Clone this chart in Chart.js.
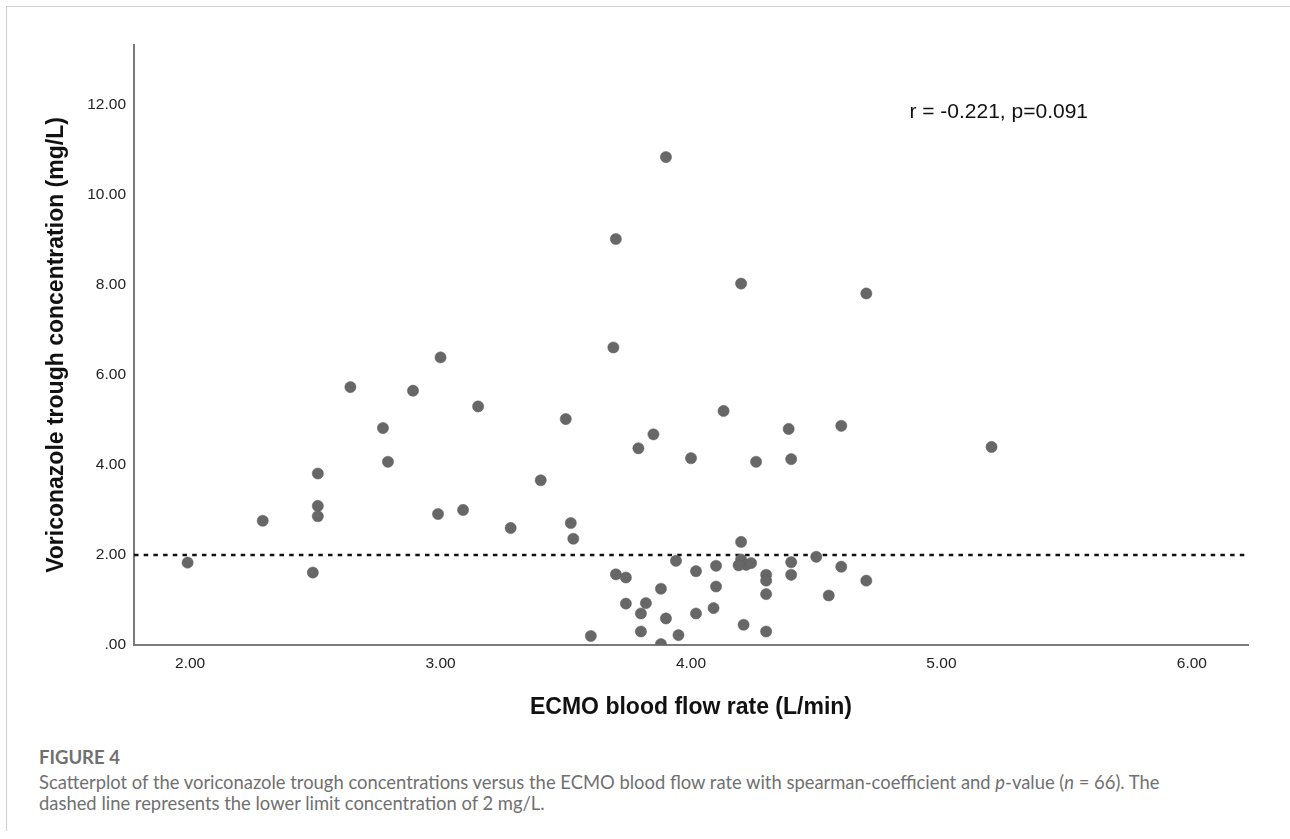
<!DOCTYPE html>
<html>
<head>
<meta charset="utf-8">
<script src="https://cdn.jsdelivr.net/npm/chart.js@4"></script>
<style>
  body { margin: 0; background: #fff; }
  #page { position: relative; width: 1290px; height: 839px; overflow: hidden; }
  #frame { position: absolute; left: 6px; top: 6px; width: 1290px; height: 824px;
           border-left: 1px solid #cfcfcf; border-top: 1px solid #cfcfcf; }
  #chart { position: absolute; left: 0; top: 0; }
  #caption { position: absolute; left: 39px; top: 746px; width: 1240px;
             font-family: Lato, "Open Sans", sans-serif; color: #707070; }
  #caption .fig { font-weight: bold; font-size: 18.5px; line-height: 22px; }
  #caption .txt { font-size: 18.4px; line-height: 21px; margin-top: 4px; }
</style>
</head>
<body>
<div id="page">
  <div id="frame"></div>
  <canvas id="chart" width="1290" height="730"></canvas>
  <div id="caption">
    <div class="fig">FIGURE 4</div>
    <div class="txt">Scatterplot of the voriconazole trough concentrations versus the ECMO blood flow rate with spearman-coefficient and <i>p</i>-value (<i>n</i> = 66). The<br>dashed line represents the lower limit concentration of 2 mg/L.</div>
  </div>
</div>
<script>
// ECMO blood flow rate (L/min)
const flowRate = [
  3.00, 2.64, 2.89, 3.15, 2.77, 2.79, 2.51, 2.51, 2.51, 2.29,
  2.99, 3.09, 3.28, 1.99, 2.49, 3.90, 3.70, 4.20, 4.70, 3.69,
  3.50, 4.13, 4.39, 4.60, 3.85, 3.79, 4.00, 4.26, 4.40, 3.40,
  3.52, 3.53, 4.20, 3.94, 4.02, 4.10, 3.70, 3.74, 4.30, 4.30,
  4.40, 4.40, 4.50, 4.60, 4.70, 4.55, 4.30, 4.10, 3.88, 3.74,
  3.82, 3.80, 3.90, 4.02, 4.09, 4.21, 4.30, 3.80, 3.95, 3.60,
  3.88, 5.20, 4.20, 4.22, 4.19, 4.24
]
// voriconazole trough concentration (mg/L)
const trough = [
  6.39, 5.73, 5.65, 5.30, 4.82, 4.07, 3.81, 3.09, 2.86, 2.76,
  2.91, 3.00, 2.60, 1.83, 1.61, 10.84, 9.02, 8.03, 7.81, 6.61,
  5.02, 5.20, 4.80, 4.87, 4.68, 4.37, 4.15, 4.07, 4.13, 3.66,
  2.71, 2.36, 2.29, 1.87, 1.64, 1.76, 1.57, 1.50, 1.56, 1.43,
  1.84, 1.56, 1.96, 1.74, 1.43, 1.10, 1.13, 1.30, 1.25, 0.92,
  0.93, 0.70, 0.59, 0.70, 0.82, 0.45, 0.30, 0.30, 0.22, 0.20,
  0.02, 4.40, 1.90, 1.78, 1.77, 1.82
]

const xTickValues = [2, 3, 4, 5, 6]
const xTickLabels = ['2.00', '3.00', '4.00', '5.00', '6.00']
const yTickValues = [0, 2, 4, 6, 8, 10, 12]
const yTickLabels = ['.00', '2.00', '4.00', '6.00', '8.00', '10.00', '12.00']

const lowerLimit = 2
const statsText = 'r = -0.221, p=0.091'

const X_MIN = 1.776, X_MAX = 6.224, LINE_END = 6.21
const Y_MIN = 0, Y_MAX = 13.33

const points = flowRate.map((x, i) => ({x, y: trough[i]}))

const tickFont = {family: '"Liberation Sans", Arial, sans-serif', size: 15.5}
const titleFont = {family: '"Liberation Sans", Arial, sans-serif', size: 23, weight: 'bold'}

const statsLabel = {
    id: 'statsLabel',
    afterDatasetsDraw(chart) {
        const {ctx, scales: {x, y}} = chart
        ctx.save()
        ctx.font = '21px "Liberation Sans", Arial, sans-serif'
        ctx.fillStyle = '#111'
        ctx.textAlign = 'left'
        ctx.textBaseline = 'middle'
        ctx.fillText(statsText, x.getPixelForValue(4.872), y.getPixelForValue(11.84))
        ctx.restore()
    }
}

new Chart(document.getElementById('chart'), {
    type: 'scatter',
    data: {
        datasets: [{
            label: 'Trough concentration',
            data: points,
            backgroundColor: '#676767',
            borderColor: '#5c5c5c',
            borderWidth: 0.5,
            pointRadius: 5.6,
            pointHoverRadius: 5.6
        }, {
            type: 'line',
            label: 'Lower limit',
            data: [{x: X_MIN, y: lowerLimit}, {x: LINE_END, y: lowerLimit}],
            borderColor: '#111',
            borderWidth: 2.6,
            borderDash: [4.5, 5.2],
            pointRadius: 0,
            fill: false
        }]
    },
    options: {
        responsive: false,
        animation: false,
        layout: {padding: {top: 45, right: 42, left: 0, bottom: 0}},
        plugins: {legend: {display: false}, tooltip: {enabled: false}},
        scales: {
            x: {
                type: 'linear',
                min: X_MIN,
                max: X_MAX,
                afterBuildTicks: scale => { scale.ticks = xTickValues.map(value => ({value})) },
                afterFit: scale => { scale.height = 85 },
                grid: {display: false, drawTicks: false},
                border: {display: true, color: '#7a7a7a', width: 2},
                ticks: {
                    font: tickFont,
                    color: '#222',
                    padding: 9,
                    maxRotation: 0,
                    autoSkip: false,
                    callback: (value, index) => xTickLabels[index]
                },
                title: {
                    display: true,
                    text: 'ECMO blood flow rate (L/min)',
                    font: titleFont,
                    color: '#111',
                    padding: {top: 0, bottom: 9}
                }
            },
            y: {
                type: 'linear',
                min: Y_MIN,
                max: Y_MAX,
                afterBuildTicks: scale => { scale.ticks = yTickValues.map(value => ({value})) },
                afterFit: scale => { scale.width = 134 },
                grid: {display: false, drawTicks: false},
                border: {display: true, color: '#7a7a7a', width: 2},
                ticks: {
                    font: tickFont,
                    color: '#222',
                    padding: 8,
                    autoSkip: false,
                    callback: (value, index) => yTickLabels[index]
                },
                title: {
                    display: true,
                    text: 'Voriconazole trough concentration (mg/L)',
                    font: titleFont,
                    color: '#111',
                    padding: {top: 43, bottom: 0}
                }
            }
        }
    },
    plugins: [statsLabel]
})
</script>
</body>
</html>
